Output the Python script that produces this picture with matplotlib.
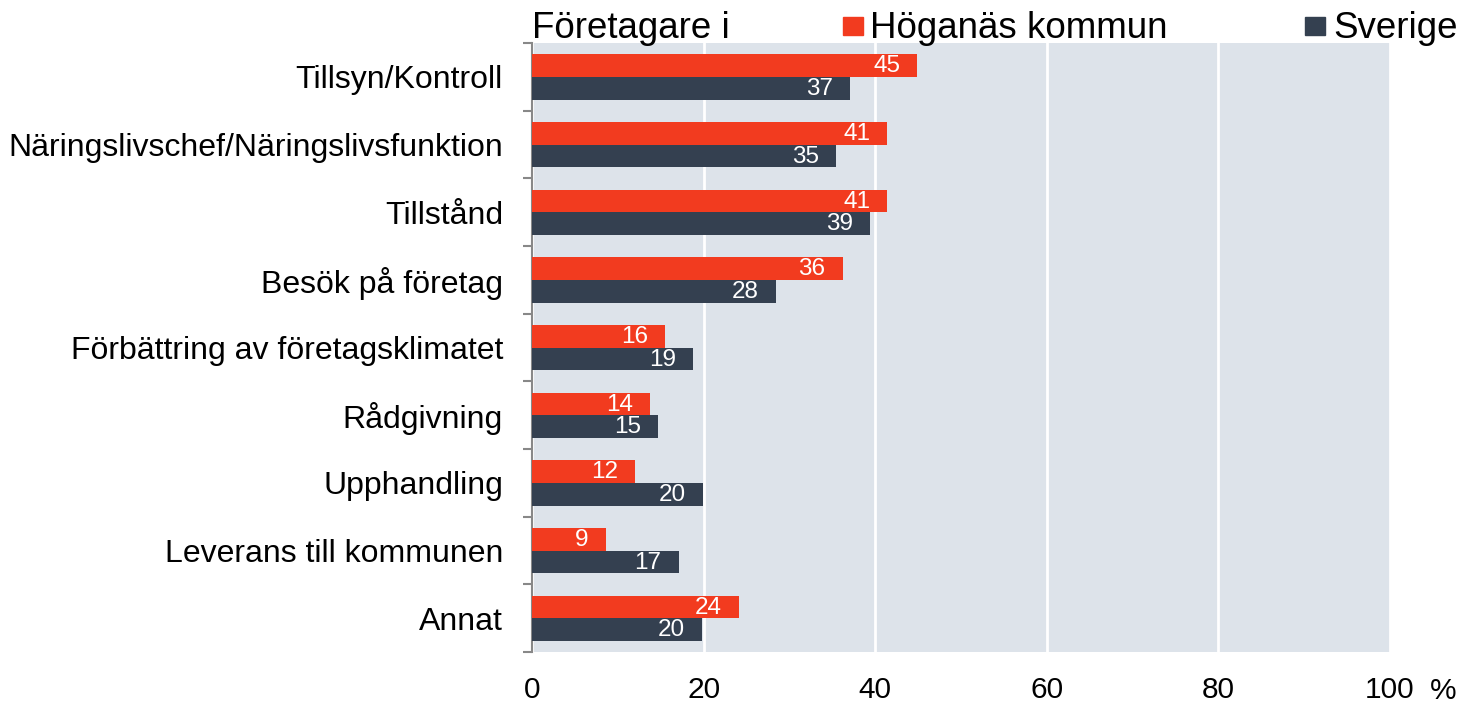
import numpy as np
import matplotlib.pyplot as plt
from matplotlib.patches import Rectangle

plt.rcParams['font.family'] = ['Liberation Sans', 'DejaVu Sans']

categories = ['Tillsyn/Kontroll', 'Näringslivschef/Näringslivsfunktion', 'Tillstånd',
              'Besök på företag', 'Förbättring av företagsklimatet', 'Rådgivning',
              'Upphandling', 'Leverans till kommunen', 'Annat']
hoganas = [44.9, 41.4, 41.4, 36.2, 15.5, 13.8, 12.0, 8.6, 24.1]
sverige = [37.1, 35.4, 39.4, 28.4, 18.8, 14.7, 19.9, 17.1, 19.8]
xticks = [0, 20, 40, 60, 80, 100]

c_hog = '#F23B1F'
c_sve = '#344050'
bg = '#DDE3EA'

fig = plt.figure(figsize=(14.67, 7.03), dpi=100)
ax = fig.add_axes([0.3627, 0.0725, 0.5848, 0.8663])
ax.set_facecolor(bg)

y = np.arange(len(categories))
h = 0.335
b1 = ax.barh(y - h / 2, hoganas, height=h, color=c_hog, zorder=3)
b2 = ax.barh(y + h / 2, sverige, height=h, color=c_sve, zorder=3)

for bars, vals in ((b1, hoganas), (b2, sverige)):
    for bar, v in zip(bars, vals):
        ax.text(v - 2.0, bar.get_y() + bar.get_height() / 2 + 0.01, f'{v:.0f}',
                ha='right', va='center', color='white', fontsize=17.5, zorder=4)

ax.set_xlim(0, 100)
ax.set_ylim(len(categories) - 0.5, -0.5)
ax.set_xticks(xticks)
ax.set_xticklabels([str(t) for t in xticks], fontsize=21.5)
ax.tick_params(axis='x', length=0, pad=17)
ax.set_yticks(y)
ax.set_yticklabels(categories, fontsize=23)
ax.tick_params(axis='y', which='major', length=0, pad=21)
ax.set_yticks(np.arange(len(categories) + 1) - 0.5, minor=True)
ax.tick_params(axis='y', which='minor', length=6.5, width=1.5, color='#888888')

ax.grid(axis='x', color='white', lw=2, zorder=1)
ax.set_axisbelow(True)
for s in ['top', 'right', 'bottom']:
    ax.spines[s].set_visible(False)
ax.spines['left'].set_color('#888888')
ax.spines['left'].set_linewidth(1.5)

ax.text(1.0625, -0.0765, '%', transform=ax.transAxes, fontsize=21.5, ha='center', va='baseline')

# legend row above plot
ax.text(0.0, 1.008, 'Företagare i', transform=ax.transAxes, fontsize=26.5, ha='left', va='baseline')
ax.add_patch(Rectangle((0.3625, 1.013), 0.0233, 0.0296, transform=ax.transAxes,
                       color=c_hog, clip_on=False))
ax.text(0.394, 1.008, 'Höganäs kommun', transform=ax.transAxes, fontsize=26.5, ha='left', va='baseline')
ax.add_patch(Rectangle((0.901, 1.013), 0.0233, 0.0296, transform=ax.transAxes,
                       color=c_sve, clip_on=False))
ax.text(0.9336, 1.008, 'Sverige', transform=ax.transAxes, fontsize=26.5, ha='left', va='baseline')

fig.savefig('out.png', dpi=100)
